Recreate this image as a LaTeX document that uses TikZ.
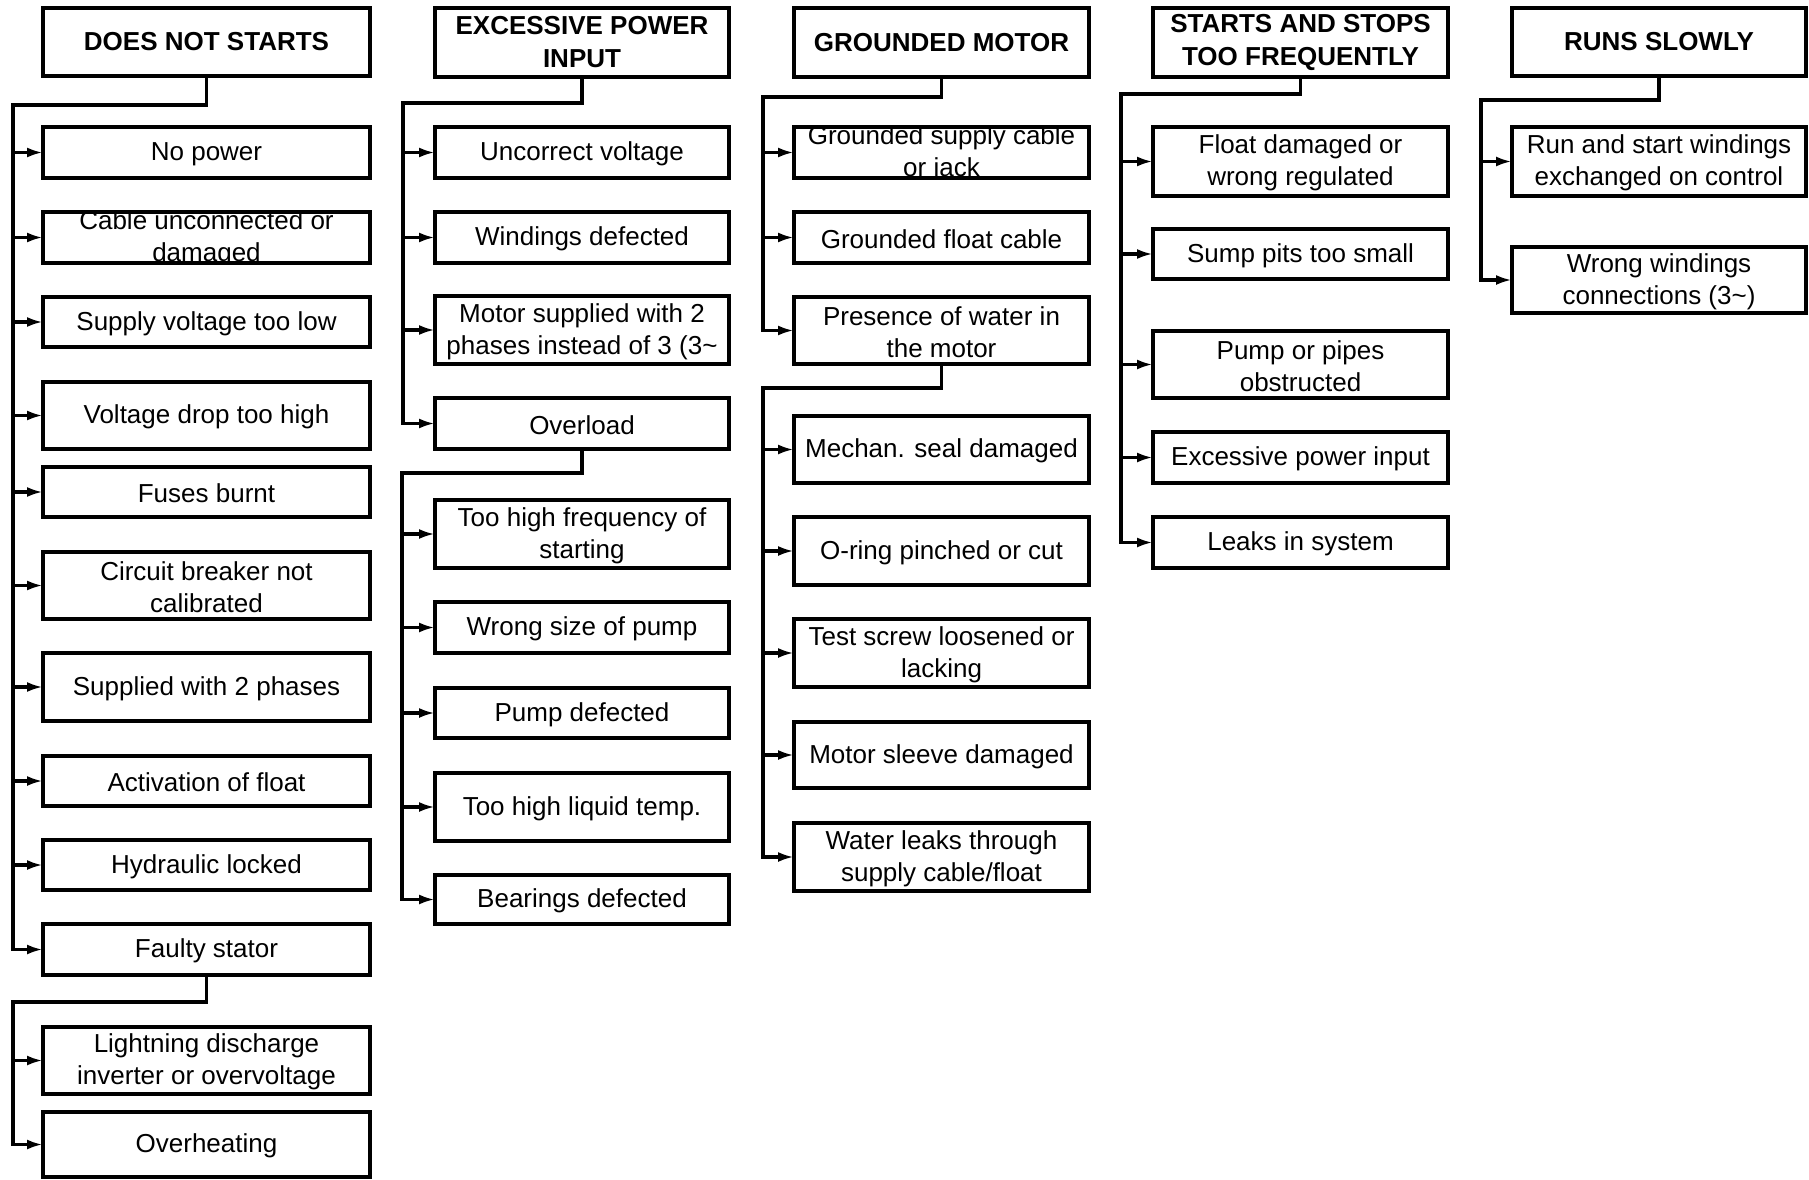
\documentclass[tikz,border=0pt]{standalone}
\usepackage{fontspec}
\setmainfont{Liberation Sans}
\usetikzlibrary{arrows.meta}
\tikzset{
  boxsh/.style={draw, rectangle, line width=3.4pt, inner sep=0pt, outer sep=0pt},
  txt/.style={align=center, inner sep=0pt, yshift=-1.5pt, font=\fontsize{26}{32}\selectfont},
  hdtxt/.style={align=center, inner sep=0pt, font=\fontsize{26}{33}\selectfont\bfseries},
  conn/.style={line width=3.2pt},
  arr/.style={line width=3.2pt, -{Latex[length=16pt,width=10pt]}},
}
% #1 text style, #2 name, #3 x left, #4 x right, #5 y top, #6 y bottom, #7 text
\newcommand{\mkbox}[7]{%
  \node[boxsh, minimum width={#4-#3}, minimum height={#6-#5}] (#2) at ({(#3+#4)/2},{(#5+#6)/2}) {};
  \begin{scope}
    \clip ([xshift=1.7pt,yshift=-1.7pt]#2.north west) rectangle ([xshift=-1.7pt,yshift=1.7pt]#2.south east);
    \node[#1] (#2t) at (#2.center) {#7};
  \end{scope}
}
\begin{document}
\begin{tikzpicture}[x=1pt,y=-1pt]
\useasboundingbox (0,0) rectangle (1809,1180);

% ---------- Column 1: DOES NOT STARTS
\mkbox{hdtxt}{h1}{43}{370}{8}{76}{DOES NOT STARTS}
\mkbox{txt}{a1}{43}{370}{127}{178}{No power}
\mkbox{txt}{a2}{43}{370}{212}{263}{Cable unconnected or\\damaged}
\mkbox{txt}{a3}{43}{370}{297}{347}{Supply voltage too low}
\mkbox{txt}{a4}{43}{370}{382}{449}{Voltage drop too high}
\mkbox{txt}{a5}{43}{370}{467}{517}{Fuses burnt}
\mkbox{txt}{a6}{43}{370}{552}{619}{Circuit breaker not\\calibrated}
\mkbox{txt}{a7}{43}{370}{653}{721}{Supplied with 2 phases}
\mkbox{txt}{a8}{43}{370}{756}{806}{Activation of float}
\mkbox{txt}{a9}{43}{370}{840}{890}{Hydraulic locked}
\mkbox{txt}{a10}{43}{370}{924}{975}{Faulty stator}
\mkbox{txt}{a11}{43}{370}{1027}{1094}{Lightning discharge\\inverter or overvoltage}
\mkbox{txt}{a12}{43}{370}{1112}{1177}{Overheating}

\coordinate (t1) at (13,105);
\draw[arr] (h1.south) |- (t1) |- (a10.west);
\foreach \n in {a1,a2,a3,a4,a5,a6,a7,a8,a9}
  \draw[arr] (t1 |- \n.west) -- (\n.west);
\coordinate (t1b) at (13,1002);
\draw[arr] (a10.south) |- (t1b) |- (a12.west);
\draw[arr] (t1b |- a11.west) -- (a11.west);

% ---------- Column 2: EXCESSIVE POWER INPUT
\mkbox{hdtxt}{h2}{435}{729}{8}{77}{EXCESSIVE POWER\\INPUT}
\mkbox{txt}{b1}{435}{729}{127}{178}{Uncorrect voltage}
\mkbox{txt}{b2}{435}{729}{212}{263}{Windings defected}
\mkbox{txt}{b3}{435}{729}{296}{364}{Motor supplied with 2\\phases instead of 3 (3\textasciitilde}
\mkbox{txt}{b4}{435}{729}{398}{449}{Overload}
\mkbox{txt}{b5}{435}{729}{500}{568}{Too high frequency of\\starting}
\mkbox{txt}{b6}{435}{729}{602}{653}{Wrong size of pump}
\mkbox{txt}{b7}{435}{729}{688}{738}{Pump defected}
\mkbox{txt}{b8}{435}{729}{773}{841}{Too high liquid temp.}
\mkbox{txt}{b9}{435}{729}{875}{924}{Bearings defected}

\coordinate (t2) at (403,103);
\draw[arr] (h2.south) |- (t2) |- (b4.west);
\foreach \n in {b1,b2,b3}
  \draw[arr] (t2 |- \n.west) -- (\n.west);
\coordinate (t2b) at (402,473);
\draw[arr] (b4.south) |- (t2b) |- (b9.west);
\foreach \n in {b5,b6,b7,b8}
  \draw[arr] (t2b |- \n.west) -- (\n.west);

% ---------- Column 3: GROUNDED MOTOR
\mkbox{hdtxt}{h3}{794}{1089}{8}{77}{GROUNDED MOTOR}
\mkbox{txt}{c1}{794}{1089}{127}{178}{Grounded supply cable\\or jack}
\mkbox{txt}{c2}{794}{1089}{212}{263}{Grounded float cable}
\mkbox{txt}{c3}{794}{1089}{297}{364}{Presence of water in\\the motor}
\mkbox{txt}{c4}{794}{1089}{416}{483}{Mechan. seal damaged}
\mkbox{txt}{c5}{794}{1089}{517}{585}{O-ring pinched or cut}
\mkbox{txt}{c6}{794}{1089}{619}{687}{Test screw loosened or\\lacking}
\mkbox{txt}{c7}{794}{1089}{722}{788}{Motor sleeve damaged}
\mkbox{txt}{c8}{794}{1089}{823}{891}{Water leaks through\\supply cable/float}

\coordinate (t3) at (763,97);
\draw[arr] (h3.south) |- (t3) |- (c3.west);
\foreach \n in {c1,c2}
  \draw[arr] (t3 |- \n.west) -- (\n.west);
\coordinate (t3b) at (763,388);
\draw[arr] (c3.south) |- (t3b) |- (c8.west);
\foreach \n in {c4,c5,c6,c7}
  \draw[arr] (t3b |- \n.west) -- (\n.west);

% ---------- Column 4: STARTS AND STOPS TOO FREQUENTLY
\mkbox{hdtxt}{h4}{1153}{1448}{8}{77}{STARTS AND STOPS\\TOO FREQUENTLY}
\mkbox{txt}{d1}{1153}{1448}{127}{196}{Float damaged or\\wrong regulated}
\mkbox{txt}{d2}{1153}{1448}{229}{279}{Sump pits too small}
\mkbox{txt}{d3}{1153}{1448}{331}{398}{Pump or pipes\\obstructed}
\mkbox{txt}{d4}{1153}{1448}{432}{483}{Excessive power input}
\mkbox{txt}{d5}{1153}{1448}{517}{568}{Leaks in system}

\coordinate (t4) at (1121,94);
\draw[arr] (h4.south) |- (t4) |- (d5.west);
\foreach \n in {d1,d2,d3,d4}
  \draw[arr] (t4 |- \n.west) -- (\n.west);

% ---------- Column 5: RUNS SLOWLY
\mkbox{hdtxt}{h5}{1512}{1806}{8}{76}{RUNS SLOWLY}
\mkbox{txt}{e1}{1512}{1806}{127}{196}{Run and start windings\\exchanged on control}
\mkbox{txt}{e2}{1512}{1806}{247}{313}{Wrong windings\\connections (3\textasciitilde)}

\coordinate (t5) at (1481,100);
\draw[arr] (h5.south) |- (t5) |- (e2.west);
\draw[arr] (t5 |- e1.west) -- (e1.west);

\end{tikzpicture}
\end{document}
